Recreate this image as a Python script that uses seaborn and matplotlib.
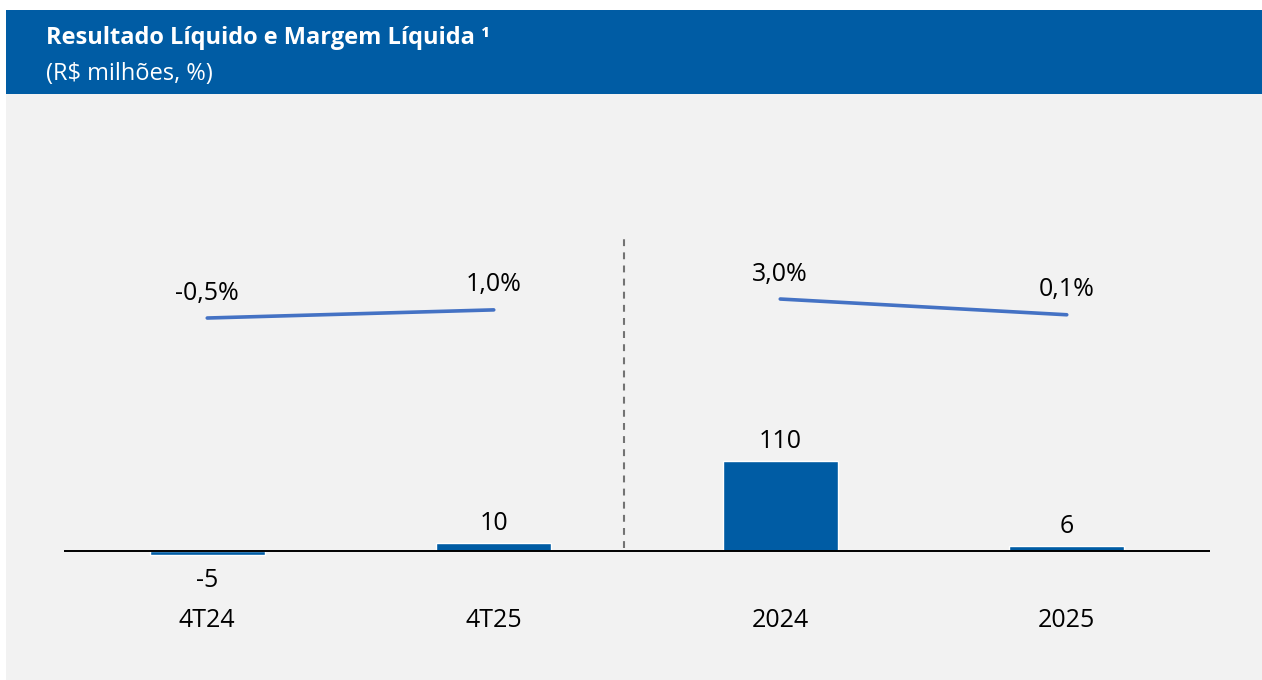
import matplotlib
matplotlib.use("Agg")
import matplotlib.pyplot as plt
from matplotlib.patches import Rectangle
import seaborn as sns
import pandas as pd

# ---- data ----
periodos = ["4T24", "4T25", "2024", "2025"]
resultado = [-5, 10, 110, 6]
margem = [-0.5, 1.0, 3.0, 0.1]
grupo = ["tri", "tri", "ano", "ano"]
rotulos_resultado = ["-5", "10", "110", "6"]
rotulos_margem = ["-0,5%", "1,0%", "3,0%", "0,1%"]
titulo = "Resultado Líquido e Margem Líquida \u00b9"
subtitulo = "(R$ milhões, %)"

BLUE = "#005CA4"
LINE = "#4472C4"
BG = "#F2F2F2"

sns.set_theme(style="white")
plt.rcParams["font.family"] = ["Open Sans", "DejaVu Sans"]

W, H = 1262, 680
fig = plt.figure(figsize=(W / 100, H / 100), dpi=100)
fig.patch.set_facecolor("white")

def px(x0, y0, x1, y1):
    return [x0 / W, 1 - y1 / H, (x1 - x0) / W, (y1 - y0) / H]

# background panels
fig.patches.append(Rectangle((6 / W, 0), (W - 6) / W, 1 - 94 / H,
                             transform=fig.transFigure, facecolor=BG, edgecolor="none", zorder=-5))
fig.patches.append(Rectangle((6 / W, 1 - 94 / H), (W - 6) / W, 84 / H,
                             transform=fig.transFigure, facecolor=BLUE, edgecolor="none", zorder=-5))

fig.text(46 / W, 1 - 44 / H, titulo, color="white", fontsize=17, fontweight="bold", va="baseline")
fig.text(46 / W, 1 - 80 / H, subtitulo, color="white", fontsize=17, va="baseline")

df = pd.DataFrame({"periodo": periodos, "resultado": resultado, "margem": margem, "grupo": grupo})
df["pos"] = range(len(df))

ax = fig.add_axes(px(64, 110, 1210, 600))
ax.set_facecolor("none")
ax.patch.set_alpha(0)
sns.barplot(data=df, x="periodo", y="resultado", order=periodos, color=BLUE,
            width=0.4, saturation=1, ax=ax)
ax.set_xlim(-0.5, 3.5)
ax.set_ylim(-59.9, 539.1)
ax.axhline(0, color="black", lw=1.4, zorder=3)
ax.plot([1.456, 1.456], [3.7, 388.8], color="#737373", lw=1.5, ls=(0, (3.3, 3.0)), zorder=2)
for s in ax.spines.values():
    s.set_visible(False)
ax.set_yticks([])
ax.set_xlabel("")
ax.set_ylabel("")
ax.tick_params(axis="x", length=0, pad=5.5, labelsize=18, labelcolor="black")

for i, (v, t) in enumerate(zip(resultado, rotulos_resultado)):
    off = 14 if v >= 0 else -18
    ax.annotate(t, (i, v), xytext=(0, off), textcoords="offset points",
                ha="center", va="center", fontsize=18, color="black")

ax2 = ax.twinx()
ax2.patch.set_alpha(0)
ax2.set_ylim(-52.43, 37.81)
sns.lineplot(data=df, x="pos", y="margem", units="grupo", estimator=None,
             color=LINE, lw=2.6, ax=ax2, legend=False)
ax2.set_xlim(-0.5, 3.5)
for s in ax2.spines.values():
    s.set_visible(False)
ax2.set_yticks([])
ax2.set_ylabel("")
ax2.set_xlabel("")
for i, (v, t) in enumerate(zip(margem, rotulos_margem)):
    ax2.annotate(t, (i, v), xytext=(0, 18), textcoords="offset points",
                 ha="center", va="center", fontsize=18, color="black")

fig.savefig("out.png", dpi=100)
